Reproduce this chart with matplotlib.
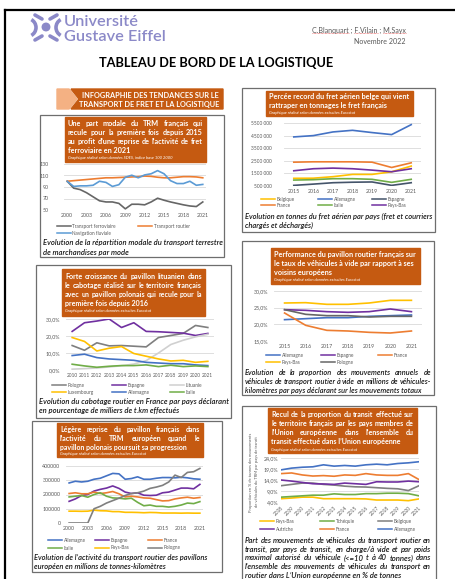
import matplotlib
matplotlib.use("Agg")
import matplotlib.pyplot as plt
import matplotlib.ticker as mticker
from matplotlib.lines import Line2D
from matplotlib.patches import Rectangle, Polygon, Ellipse, Arc

plt.rcParams["font.family"] = ["Lato", "DejaVu Sans"]

# ---------------- data ----------------
# 1. Modal split, index base 100 in 2000
years_modal = list(range(2000, 2022))
ferroviaire = [100, 88, 85.5, 80, 73, 66, 64, 64, 61.5, 52, 60, 60, 59, 64, 70.5, 67, 64, 61.5, 59, 57, 56, 64]
routier = [100, 101, 102, 103, 104, 105, 106, 106, 106.5, 107, 107.5, 108, 109, 108.5, 107, 106, 106, 107, 108, 108, 107.5, 106]
fluviale = [100, 91, 92, 92, 93, 100, 98, 91, 94, 107, 110.5, 106, 111, 113, 118.5, 113, 101, 96, 96, 100, 93, 94.5]

# 2. Cabotage in France by declaring country (%)
years_cabo = list(range(2010, 2022))
cabo_pologne = [14.4, 11.6, 16.0, 14.2, 14.4, 14.0, 13.6, 19.1, 20.3, 21.5, 26.2, 25.0]
cabo_espagne = [22.7, 27.8, 28.8, 30.0, 25.0, 27.8, 22.7, 22.5, 22.1, 21.7, 20.3, 21.5]
cabo_lituanie = [0.5, 0.8, 1.2, 1.8, 2.5, 3.5, 5.5, 10.0, 15.0, 17.5, 19.5, 21.0]
cabo_luxembourg = [19.1, 16.8, 11.2, 12.8, 13.8, 9.7, 8.1, 6.5, 5.3, 5.7, 4.5, 5.1]
cabo_allemagne = [8.5, 9.3, 7.3, 6.5, 6.1, 5.7, 4.5, 4.1, 3.7, 3.7, 3.0, 2.6]
cabo_italie = [3.4, 2.4, 1.6, 2.2, 2.6, 2.6, 3.0, 2.0, 2.8, 2.0, 2.4, 2.0]

# 3. European road haulage activity (million t.km)
years_trm = list(range(2000, 2022))
trm_allemagne = [281000, 293000, 288000, 293000, 307000, 314000, 331000, 348000, 345000, 307000, 312000,
                 324000, 307000, 307000, 314000, 319000, 319000, 317000, 321000, 317000, 310000, 307000]
trm_espagne = [152000, 169000, 193000, 200000, 224000, 236000, 245000, 260000, 243000, 217000, 207000,
               212000, 195000, 193000, 195000, 212000, 217000, 231000, 245000, 245000, 240000, 271000]
trm_france = [207000, 212000, 205000, 205000, 217000, 207000, 212000, 221000, 205000, 183000, 188000,
              183000, 176000, 174000, 164000, 155000, 157000, 169000, 176000, 181000, 174000, 179000]
trm_italie = [183000, 188000, 193000, 181000, 200000, 212000, 188000, 176000, 174000, 169000, 174000,
              145000, 121000, 126000, 117000, 117000, 112000, 117000, 126000, 140000, 136000, 150000]
trm_paysbas = [83000, 83000, 82000, 83000, 90000, 86000, 85000, 80000, 80000, 75000, 75000,
               74000, 72000, 74000, 73000, 70000, 70000, 70000, 69000, 70000, 69000, 69000]
trm_pologne = [0, 0, 0, 0, 100000, 117000, 140000, 157000, 174000, 193000, 207000,
               212000, 224000, 243000, 252000, 264000, 288000, 336000, 319000, 355000, 360000, 383000]

# 4. Air freight (tonnes)
years_air = list(range(2015, 2022))
air_belgique = [1110000, 1120000, 1240000, 1420000, 1420000, 1630000, 2080000]
air_allemagne = [4395000, 4500000, 4790000, 4920000, 4740000, 4580000, 5370000]
air_espagne = [550000, 650000, 760000, 800000, 820000, 550000, 760000]
air_france = [2390000, 2420000, 2420000, 2420000, 2390000, 1970000, 2340000]
air_italie = [970000, 1000000, 1080000, 1080000, 1030000, 790000, 1030000]
air_paysbas = [1710000, 1870000, 1920000, 1870000, 1760000, 1630000, 1870000]

# 5. Empty running share (%)
years_vide = list(range(2015, 2022))
vide_allemagne = [21.4, 21.7, 22.0, 22.0, 22.4, 22.6, 22.8]
vide_espagne = [24.4, 24.2, 23.8, 23.6, 23.8, 24.6, 23.8]
vide_france = [23.4, 19.7, 18.2, 18.0, 17.6, 17.4, 18.0]
vide_paysbas = [26.4, 26.5, 26.0, 26.0, 26.4, 27.2, 27.2]
vide_pologne = [24.4, 23.0, 22.6, 22.6, 22.2, 22.4, 22.4]

# 6. Transit share by transit country (%)
years_transit = list(range(2008, 2022))
tr_paysbas = [5.5, 5.8, 6.2, 6.2, 5.5, 5.5, 5.5, 5.5, 5.4, 4.9, 4.9, 4.9, 4.6, 5.4]
tr_tchequie = [6.2, 6.5, 6.8, 7.1, 7.1, 7.7, 7.4, 7.4, 7.8, 7.8, 8.0, 8.0, 7.8, 6.8]
tr_belgique = [11.4, 12.0, 12.6, 12.6, 12.0, 11.7, 11.2, 10.9, 10.8, 10.5, 10.2, 10.0, 9.2, 11.4]
tr_autriche = [14.0, 13.5, 12.9, 12.3, 12.2, 12.0, 12.6, 12.3, 12.0, 13.2, 13.1, 13.1, 13.5, 13.2]
tr_france = [16.9, 17.2, 16.3, 15.8, 16.0, 15.7, 16.3, 16.1, 16.9, 16.3, 16.1, 16.1, 16.9, 14.2]
tr_allemagne = [18.6, 19.4, 19.8, 20.0, 20.9, 20.3, 20.6, 20.3, 20.9, 21.2, 20.9, 21.5, 21.8, 22.3]

# ---------------- style ----------------
W, H = 456, 579
BURNT = "#C55A11"
PEACH = "#F4B183"
LOGO = "#8B89C8"
TICK = "#595959"
GRID = "#D9D9D9"
BLUE = "#4472C4"
LBLUE = "#5B9BD5"
ORANGE = "#ED7D31"
GREY = "#7F7F7F"
DGREY = "#666666"
LGREY = "#D0D0D0"
YELLOW = "#FFC000"
GREEN = "#70AD47"
PURPLE = "#7030A0"
NAVY = "#44546A"

fig = plt.figure(figsize=(W / 100, H / 100), dpi=100)
fig.patch.set_facecolor("white")
R = fig.canvas.get_renderer()


def fx(x):
    return x / W


def fy(y):
    return 1 - y / H


def px_rect(x0, y0, x1, y1):
    return [x0 / W, 1 - y1 / H, (x1 - x0) / W, (y1 - y0) / H]


def box(x0, y0, x1, y1, **kw):
    fig.add_artist(Rectangle((fx(x0), fy(y1)), (x1 - x0) / W, (y1 - y0) / H, **kw))


def seg(x0, y0, x1, y1, **kw):
    fig.add_artist(Line2D([fx(x0), fx(x1)], [fy(y0), fy(y1)], **kw))


def text_width(s, **kw):
    t = fig.text(0, 0, s, **kw)
    w = t.get_window_extent(R).width
    t.remove()
    return w


def text_block(lines, x0, x1, y0, dy, fs=None, justify=True, **kw):
    """Place lines of text, justified between x0 and x1 (last line left)."""
    if fs is None:
        widest = max(text_width(l, fontsize=10, **kw) for l in lines)
        fs = 10 * (x1 - x0) / widest
    for i, line in enumerate(lines):
        y = fy(y0 + i * dy)
        words = line.split()
        if not justify or i == len(lines) - 1 or len(words) < 2:
            fig.text(fx(x0), y, line, fontsize=fs, va="center_baseline", **kw)
            continue
        ts = [fig.text(0, y, w, fontsize=fs, va="center_baseline", **kw) for w in words]
        ws = [t.get_window_extent(R).width for t in ts]
        gap = (x1 - x0 - sum(ws)) / (len(words) - 1)
        x = x0
        for t, w in zip(ts, ws):
            t.set_x(fx(x))
            x += w + gap
    return fs


def legend_px(entries, cols_x, rows_y, sample=14, fs=3.4):
    for i, (label, color) in enumerate(entries):
        x = cols_x[i % len(cols_x)]
        y = rows_y[i // len(cols_x)]
        seg(x, y, x + sample, y, color=color, lw=1.1)
        fig.text(fx(x + sample + 1.5), fy(y), label, fontsize=fs, color=TICK, va="center_baseline")


def line_chart(rect, x, series, ylim, yticks, xticks, yfmt, ypad=3, xpad=2.5, xfs=3.8, yfs=3.8,
               between=True, xrot=0):
    ax = fig.add_axes(px_rect(*rect))
    for vals, color in series:
        ax.plot(x, vals, color=color, lw=1.2, solid_joinstyle="round")
    for s in ax.spines.values():
        s.set_visible(False)
    ax.patch.set_alpha(0)
    ax.set_ylim(*ylim)
    ax.set_yticks(yticks)
    ax.yaxis.set_major_formatter(mticker.FuncFormatter(yfmt))
    ax.set_xticks(xticks)
    ax.set_xticklabels([str(v) for v in xticks], rotation=xrot,
                       ha="right" if xrot else "center", rotation_mode="anchor" if xrot else "default")
    off = 0.5 if between else 0
    ax.set_xlim(x[0] - off, x[-1] + off)
    ax.grid(axis="y", color=GRID, lw=0.6)
    ax.set_axisbelow(True)
    ax.tick_params(axis="y", length=0, pad=ypad, labelsize=yfs, labelcolor=TICK)
    ax.tick_params(axis="x", length=0, pad=xpad, labelsize=xfs, labelcolor=TICK)
    return ax


def pct(v, _):
    return f"{v:.1f}%".replace(".", ",")


# ---------------- page frame & header ----------------
seg(5, 10, 456, 10, color="black", lw=1.6)
seg(5, 10, 5, 579, color="black", lw=1.6)

# logo
for a, b, c, d in [(35, 15, 42, 19), (50, 19, 57, 15), (35, 40, 42, 36), (50, 36, 57, 40)]:
    seg(a, b, c, d, color=LOGO, lw=2.6, solid_capstyle="round")
fig.add_artist(Arc((fx(27), fy(27.5)), 18 / W, 18 / H, theta1=-55, theta2=55, color=LOGO, lw=2.6))
fig.add_artist(Arc((fx(65), fy(27.5)), 18 / W, 18 / H, theta1=125, theta2=235, color=LOGO, lw=2.6))
fig.add_artist(Ellipse((fx(46), fy(27)), 7.5 / W, 7.5 / H, color=LOGO))
fig.text(fx(64), fy(20.5), "Université", fontsize=11.8, color=LOGO, fontweight="semibold", va="center_baseline")
fig.text(fx(64), fy(35.5), "Gustave Eiffel", fontsize=11.8, color=LOGO, fontweight="semibold", va="center_baseline")

# author line, with the spell-check underlines under each name
AUTH_FS = 5.1
names = ["C.Blanquart", "F.Vilain", "M.Sayx"]
author = " ; ".join(names)
x_right = 406
x_left = x_right - text_width(author, fontsize=AUTH_FS)
fig.text(fx(x_right), fy(30), author, fontsize=AUTH_FS, color=TICK, ha="right", va="center_baseline")
for i, name in enumerate(names):
    start = x_left + text_width(" ; ".join(names[:i]) + (" ; " if i else ""), fontsize=AUTH_FS) if i else x_left
    seg(start, 33, start + text_width(name, fontsize=AUTH_FS), 33, color="#E04040", lw=0.5, ls=(0, (1, 1)))
fig.text(fx(x_right), fy(40.5), "Novembre 2022", fontsize=AUTH_FS, color=TICK, ha="right", va="center_baseline")
fig.text(fx(216), fy(62), "TABLEAU DE BORD DE LA LOGISTIQUE", fontsize=9.2, fontweight="bold",
         ha="center", va="center_baseline")

# banner
fig.add_artist(Polygon([(fx(57), fy(89)), (fx(69), fy(89)), (fx(77), fy(99)), (fx(69), fy(109)),
                        (fx(57), fy(109))], closed=True, color=PEACH))
fig.add_artist(Polygon([(fx(71), fy(89)), (fx(223), fy(89)), (fx(223), fy(109)), (fx(71), fy(109)),
                        (fx(79), fy(99))], closed=True, color=BURNT))
fig.text(fx(219), fy(95), "INFOGRAPHIE DES TENDANCES SUR LE", fontsize=5.3, fontweight="bold",
         color="white", ha="right", va="center_baseline")
fig.text(fx(219), fy(104.5), "TRANSPORT DE FRET ET LA LOGISTIQUE", fontsize=5.3, fontweight="bold",
         color="white", ha="right", va="center_baseline")

# panel frames
PANEL = dict(fill=False, edgecolor="#6E6E6E", lw=0.9)
box(40, 115, 224, 257, **PANEL)
box(36, 265, 231, 418, **PANEL)
box(32, 421, 222, 572, **PANEL)
box(242, 88, 435, 232, **PANEL)
box(242, 241, 434, 395, **PANEL)
box(242, 406, 436, 600, **PANEL)

TITLE = dict(color="white", fontweight="bold")
SUB = dict(color="white", fontstyle="italic")
CAP = dict(color="#1a1a1a", fontstyle="italic", fontweight="semibold")

# ---------------- panel 1: modal split ----------------
box(65, 117, 206, 162, color=BURNT)
text_block(["Une part modale du TRM français qui",
            "recule pour la première fois depuis 2015",
            "au profit d’une reprise de l’activité de fret",
            "ferroviaire en 2021"], 68, 203, 123, 9, **TITLE)
fig.text(fx(68), fy(157.5), "Graphique réalisé selon données SDES, indice base 100 2000", fontsize=3.0,
         va="center_baseline", **SUB)
line_chart((64, 164, 206, 210), years_modal,
           [(ferroviaire, DGREY), (routier, ORANGE), (fluviale, LBLUE)],
           (50, 130), [50, 70, 90, 110, 130], years_modal[::3], lambda v, _: f"{v:.0f}", ypad=11)
legend_px([("Transport ferroviaire", DGREY), ("Transport routier", ORANGE), ("Navigation fluviale", LBLUE)],
          [57, 138], [226, 233])
text_block(["Evolution de la répartition modale du transport terrestre",
            "de marchandises par mode"], 43, 221, 242, 9.7, justify=False, **CAP)

# ---------------- panel 2: cabotage ----------------
box(62, 269, 205, 316, color=BURNT)
text_block(["Forte croissance du pavillon lituanien dans",
            "le cabotage réalisé sur le territoire français",
            "avec un pavillon polonais qui recule pour la",
            "première fois depuis 2016"], 65, 202, 276, 9, **TITLE)
fig.text(fx(65), fy(311), "Graphique réalisé selon données extraites Eurostat", fontsize=3.0,
         va="center_baseline", **SUB)
line_chart((66, 319, 214, 370), years_cabo,
           [(cabo_pologne, GREY), (cabo_espagne, PURPLE), (cabo_lituanie, LGREY),
            (cabo_luxembourg, YELLOW), (cabo_allemagne, BLUE), (cabo_italie, GREEN)],
           (0, 30), [0, 10, 20, 30], years_cabo, pct, ypad=4, xfs=3.4)
legend_px([("Pologne", GREY), ("Espagne", PURPLE), ("Lituanie", LGREY),
           ("Luxembourg", YELLOW), ("Allemagne", BLUE), ("Italie", GREEN)],
          [52, 112, 170], [385, 392])
text_block(["Evolution du cabotage routier en France par pays déclarant",
            "en pourcentage de milliers de t.km effectués"], 39, 228, 401, 9.5, justify=False, **CAP)

# ---------------- panel 3: European road haulage ----------------
box(57, 423, 203, 457, color=BURNT)
text_block(["Légère reprise du pavillon français dans",
            "l’activité du TRM européen quand le",
            "pavillon polonais poursuit sa progression"], 60, 200, 429, 9, fs=5.0, **TITLE)
fig.text(fx(60), fy(453.5), "Graphique réalisé selon données extraites Eurostat", fontsize=3.0,
         va="center_baseline", **SUB)
line_chart((66, 466, 203, 523), years_trm,
           [(trm_allemagne, BLUE), (trm_espagne, PURPLE), (trm_france, ORANGE),
            (trm_italie, GREEN), (trm_paysbas, YELLOW), (trm_pologne, GREY)],
           (0, 400000), [0, 100000, 200000, 300000, 400000], years_trm[::3],
           lambda v, _: f"{v:.0f}", ypad=4)
legend_px([("Allemagne", BLUE), ("Espagne", PURPLE), ("France", ORANGE),
           ("Italie", GREEN), ("Pays-Bas", YELLOW), ("Pologne", GREY)],
          [48, 95, 148], [540, 547.5])
text_block(["Evolution de l’activité du transport routier des pavillons",
            "européen en millions de tonnes-kilomètres"], 34, 206, 557, 9.3, justify=False, **CAP)

# ---------------- right panel 1: air freight ----------------
box(266, 91, 413, 116, color=BURNT)
text_block(["Percée record du fret aérien belge qui vient",
            "rattraper en tonnages le fret français"], 269, 410, 96.5, 8.5, justify=False, **TITLE)
fig.text(fx(269), fy(112.5), "Graphique réalisé selon données extraites Eurostat", fontsize=3.0,
         va="center_baseline", **SUB)
line_chart((284, 123, 421, 186), years_air,
           [(air_belgique, YELLOW), (air_allemagne, BLUE), (air_espagne, NAVY),
            (air_france, ORANGE), (air_italie, GREEN), (air_paysbas, PURPLE)],
           (500000, 5500000), [500000, 1500000, 2500000, 3500000, 4500000, 5500000], years_air,
           lambda v, _: f"{int(v) // 1000} 000", ypad=9, yfs=3.5)
legend_px([("Belgique", YELLOW), ("Allemagne", BLUE), ("Espagne", NAVY),
           ("France", ORANGE), ("Italie", GREEN), ("Pays-Bas", PURPLE)],
          [261, 318, 372], [198.5, 204.5])
text_block(["Evolution en tonnes du fret aérien par pays (fret et courriers",
            "chargés et déchargés)"], 245, 431, 216, 9.3, justify=False, **CAP)

# ---------------- right panel 2: empty running ----------------
box(271, 248, 420, 284, color=BURNT)
text_block(["Performance du pavillon routier français sur",
            "le taux de véhicules à vide par rapport à ses",
            "voisins européens"], 274, 417, 253.5, 9, justify=False, **TITLE)
fig.text(fx(274), fy(279.5), "Graphique réalisé selon données extraites Eurostat", fontsize=3.0,
         va="center_baseline", **SUB)
line_chart((274, 291, 422, 341), years_vide,
           [(vide_allemagne, BLUE), (vide_espagne, PURPLE), (vide_france, ORANGE),
            (vide_paysbas, YELLOW), (vide_pologne, DGREY)],
           (15, 30), [15, 20, 25, 30], years_vide, pct, ypad=4)
legend_px([("Allemagne", BLUE), ("Espagne", PURPLE), ("France", ORANGE),
           ("Pays-Bas", YELLOW), ("Pologne", DGREY)],
          [266, 321, 378], [355, 362])
text_block(["Evolution de la proportion des mouvements annuels de",
            "véhicules de transport routier à vide en millions de véhicules-",
            "kilomètres par pays déclarant sur les mouvements totaux"], 245, 431, 372, 8.8, **CAP)

# ---------------- right panel 3: transit ----------------
box(268, 408, 417, 453, color=BURNT)
text_block(["Recul de la proportion du transit effectué sur",
            "le territoire français par les pays membres de",
            "l’Union européenne dans l’ensemble du",
            "transit effectué dans l’Union européenne"], 271, 414, 414, 9, fs=None, **TITLE)
fig.text(fx(271), fy(449.5), "Graphique réalisé selon données extraites Eurostat", fontsize=3.0,
         va="center_baseline", **SUB)
line_chart((281, 458, 419, 502), years_transit,
           [(tr_paysbas, YELLOW), (tr_tchequie, GREEN), (tr_belgique, GREY),
            (tr_autriche, PURPLE), (tr_france, ORANGE), (tr_allemagne, BLUE)],
           (4, 24), [4, 9, 14, 19, 24], years_transit, pct, ypad=2, between=False, xrot=45, xfs=3.4)
fig.text(fx(254), fy(472), "Proportion en % de tonnes des mouvements\nde véhicules du TRM par pays de transit",
         fontsize=3.0, color=TICK, rotation=90, ha="center", va="center", linespacing=1.5)
legend_px([("Pays-Bas", YELLOW), ("Tchéquie", GREEN), ("Belgique", GREY),
           ("Autriche", PURPLE), ("France", ORANGE), ("Allemagne", BLUE)],
          [260, 320, 378], [521, 529])
text_block(["Part des mouvements de véhicules du transport routier en",
            "transit, par pays de transit, en charge/à vide et par poids",
            "maximal autorisé du véhicule (<=10 t à 40 tonnes) dans",
            "l’ensemble des mouvements de véhicules du transport en",
            "routier dans L’Union européenne en % de tonnes"], 245, 431, 540, 8.7, **CAP)

fig.savefig("out.png", dpi=100)
